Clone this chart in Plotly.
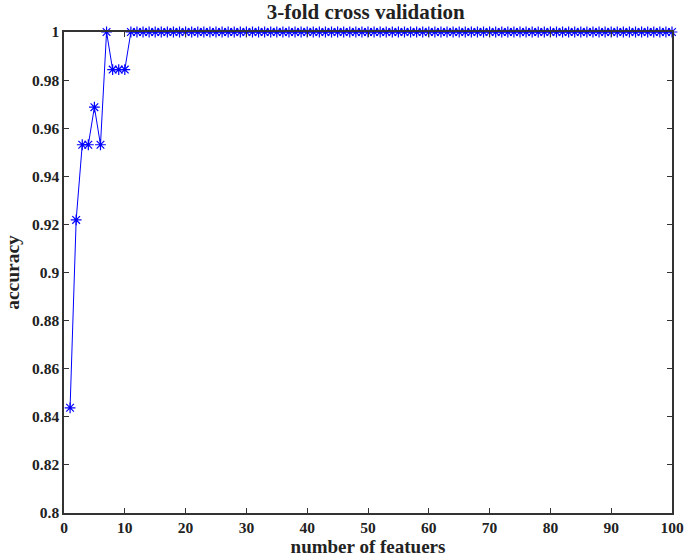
import plotly.graph_objects as go

n_features = list(range(1, 101))
accuracy_start = [0.84375, 0.921875, 0.953125, 0.953125, 0.96875, 0.953125,
                  1.0, 0.984375, 0.984375, 0.984375]
accuracy = accuracy_start + [1.0] * (100 - len(accuracy_start))

y_tickvals = [0.8, 0.82, 0.84, 0.86, 0.88, 0.9, 0.92, 0.94, 0.96, 0.98, 1.0]
y_ticktext = ["0.8", "0.82", "0.84", "0.86", "0.88", "0.9", "0.92", "0.94", "0.96", "0.98", "1"]
x_tickvals = [0, 10, 20, 30, 40, 50, 60, 70, 80, 90, 100]
x_ticktext = [str(v) for v in x_tickvals]

FONT = "Liberation Serif"

fig = go.Figure()
fig.add_trace(go.Scatter(
    x=n_features, y=accuracy, mode="lines+markers",
    line=dict(color="#0000ff", width=1),
    marker=dict(symbol="asterisk-open", size=9, color="#0000ff",
                line=dict(color="#0000ff", width=1.2)),
    cliponaxis=False, showlegend=False,
))

axis_common = dict(
    showgrid=False, zeroline=False, showline=True, linecolor="#333333",
    linewidth=1.5, mirror="ticks", ticks="inside", ticklen=5,
    tickcolor="#333333", tickwidth=1.2, automargin=False,
    tickfont=dict(family=FONT, size=15.5, color="#222222"),
)

fig.update_layout(
    width=685, height=560,
    margin=dict(l=64, r=13, t=32, b=47),
    paper_bgcolor="white", plot_bgcolor="white",
    font=dict(family=FONT, color="#222222"),
    title=dict(text="<b>3-fold cross validation</b>", xref="container", x=0.534,
               xanchor="center", yref="container", y=1 - 12 / 560,
               yanchor="middle",
               font=dict(family=FONT, size=21, color="#222222")),
    xaxis=dict(range=[0, 100], tickvals=x_tickvals,
               ticktext=["<b>%s</b>" % t for t in x_ticktext], ticklabelstandoff=0,
               title=dict(text="<b>number of featuers</b>", standoff=4,
                          font=dict(family=FONT, size=19, color="#222222")),
               **axis_common),
    yaxis=dict(range=[0.8, 1.0], tickvals=y_tickvals,
               ticktext=["<b>%s</b>" % t for t in y_ticktext],
               ticklabelstandoff=0,
               title=dict(text="<b>accuracy</b>", standoff=7,
                          font=dict(family=FONT, size=19.5, color="#222222")),
               **axis_common),
)

fig.write_html("out.html")
